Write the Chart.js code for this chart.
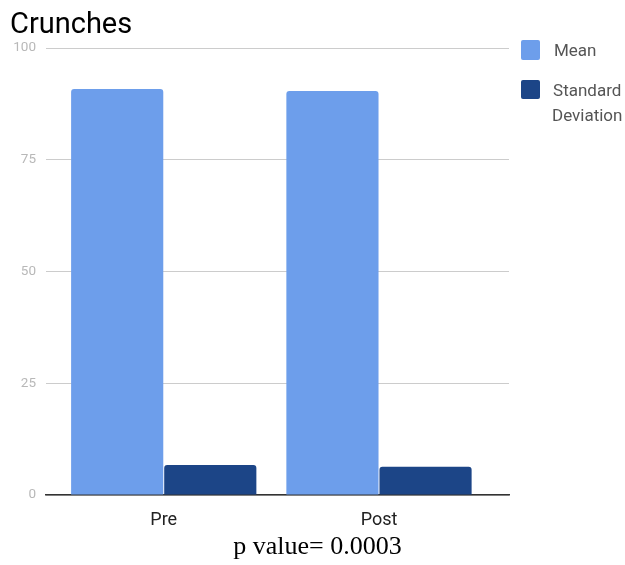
<!DOCTYPE html>
<html>
<head>
<meta charset="utf-8">
<script src="https://cdn.jsdelivr.net/npm/chart.js@4/dist/chart.umd.min.js"></script>
<style>
  html, body { margin: 0; padding: 0; background: #fff; }
  #wrap { position: relative; width: 625px; height: 565px; overflow: hidden; }
  #legend { position: absolute; left: 521px; top: 39px; width: 110px; font-family: Roboto, sans-serif; font-size: 17px; color: #555; }
  .item { display: flex; align-items: flex-start; margin-bottom: 15.5px; }
  .swatch { width: 19px; height: 19.5px; border-radius: 2px; flex: none; margin-top: 1px; }
  .txt { line-height: 25px; margin-top: -1px; text-align: center; white-space: nowrap; }
  #note { position: absolute; left: 10px; width: 615px; top: 531px; line-height: 30px; text-align: center;
          font-family: 'Liberation Serif', 'Times New Roman', serif; font-size: 26px; color: #000; }
</style>
</head>
<body>
<div id="wrap">
  <canvas id="c" width="625" height="565"></canvas>
  <div id="legend"></div>
  <div id="note"></div>
</div>
<script>
const categories = ['Pre', 'Post'];
const meanValues = [90.8, 90.4];
const sdValues = [6.7, 6.3];
const yTicks = [0, 25, 50, 75, 100];
const seriesNames = ['Mean', 'Standard Deviation'];
const seriesColors = ['#6d9eeb', '#1c4587'];
const chartTitle = 'Crunches';
const noteText = 'p value= 0.0003';

const seriesData = [meanValues, sdValues];

const chart = new Chart(document.getElementById('c'), {
  type: 'bar',
  data: {
    datasets: seriesNames.map((name, i) => ({
      label: name,
      data: categories.map((c, k) => ({ x: k, y: seriesData[i][k] })),
      backgroundColor: seriesColors[i],
      borderRadius: { topLeft: 3, topRight: 3 },
      borderSkipped: 'bottom',
      categoryPercentage: 0.865,
      barPercentage: 0.99
    }))
  },
  options: {
    responsive: false,
    animation: false,
    devicePixelRatio: 1,
    layout: { padding: { left: 10, right: 116, top: 0, bottom: 35 } },
    plugins: {
      legend: { display: false },
      tooltip: { enabled: false },
      title: {
        display: true,
        text: chartTitle,
        align: 'start',
        color: '#000',
        font: { family: 'Roboto', size: 29, weight: 'normal' },
        padding: { top: 8.6, bottom: 4.6 }
      }
    },
    scales: {
      x: {
        type: 'linear',
        offset: false,
        min: -0.547,
        max: 1.604,
        afterBuildTicks: (axis) => { axis.ticks = categories.map((c, k) => ({ value: k })); },
        afterFit: (axis) => { axis.height = 35; },
        grid: { display: false, drawTicks: false },
        border: { display: true, color: '#333', width: 1.5 },
        ticks: {
          includeBounds: false,
          color: '#222',
          font: { family: 'Roboto', size: 18 },
          padding: 15,
          callback: (v) => categories[v]
        }
      },
      y: {
        min: 0,
        max: 100,
        afterBuildTicks: (axis) => { axis.ticks = yTicks.map(v => ({ value: v })); },
        afterFit: (axis) => { axis.width = 36; },
        grid: { color: '#cccccc', drawTicks: false },
        border: { display: false },
        ticks: { color: '#b8b8b8', font: { family: 'Roboto', size: 13.5 }, padding: 10 }
      }
    }
  }
});

// HTML legend built from the dataset names and colours
const legend = document.getElementById('legend');
seriesNames.forEach((name, i) => {
  const item = document.createElement('div');
  item.className = 'item';
  const sw = document.createElement('div');
  sw.className = 'swatch';
  sw.style.background = seriesColors[i];
  const t = document.createElement('div');
  t.className = 'txt';
  const multi = name.includes(' ');
  t.style.marginLeft = multi ? '12px' : '14px';
  t.innerHTML = name.replace(' ', '<br>');
  item.appendChild(sw);
  item.appendChild(t);
  legend.appendChild(item);
});

document.getElementById('note').textContent = noteText;
</script>
</body>
</html>
